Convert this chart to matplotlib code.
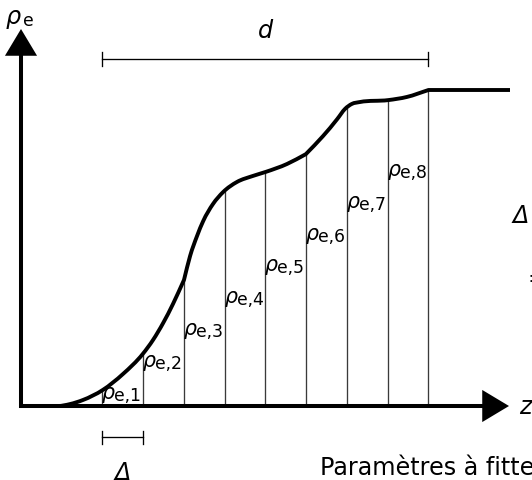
import matplotlib
matplotlib.use("Agg")
import numpy as np
import matplotlib.pyplot as plt
from matplotlib.path import Path
from matplotlib.patches import PathPatch

# Electron-density profile rho_e(z); z in units of the strip width Delta
z_profile = [0.91, 1.20, 1.52, 2.01, 2.50, 2.99, 3.24, 3.49, 3.73, 4.00,
             4.15, 4.32, 4.47, 4.71, 4.96, 5.30, 5.69, 6.01, 6.53, 6.99,
             7.41, 7.76, 7.95, 8.12, 8.32, 9.01, 9.47, 10.00, 12.00]
rho_profile = [0.000, 0.006, 0.019, 0.051, 0.101, 0.165, 0.209, 0.263, 0.323, 0.399,
               0.475, 0.538, 0.585, 0.639, 0.677, 0.709, 0.728, 0.741, 0.766, 0.797,
               0.854, 0.908, 0.940, 0.956, 0.962, 0.968, 0.978, 1.000, 1.000]
corner_z = [4.00, 6.99, 10.00]

# Slab boundaries and profile height at each boundary
strip_edges = [2, 3, 4, 5, 6, 7, 8, 9, 10]
edge_heights = [0.051, 0.165, 0.399, 0.680, 0.741, 0.797, 0.946, 0.968, 1.000]
strip_index = [1, 2, 3, 4, 5, 6, 7, 8]
label_rho = [0.038, 0.139, 0.241, 0.342, 0.443, 0.541, 0.642, 0.744]

# ---- figure: 532 x 481 px, axes fill the canvas ----
W, H, DPI = 532, 481, 100
fig = plt.figure(figsize=(W / DPI, H / DPI), dpi=DPI)
ax = fig.add_axes([0, 0, 1, 1])
ax.set_axis_off()

x0_px, y0_px = 21.0, 407.0      # origin position on the canvas
sx, sy = 40.75, 316.0           # pixels per unit of z and of rho
ax.set_xlim(-x0_px / sx, (W - x0_px) / sx)
ax.set_ylim((y0_px - H) / sy, y0_px / sy)

def px(x, y):
    """canvas pixel -> data coordinates (for annotation placement)"""
    return (x - x0_px) / sx, (y0_px - y) / sy

FONT = "DejaVu Sans"
BIG = 17.2
RHO = 14.8
SUB = 12.4
PT = 72.0 / DPI

# ---- smooth profile curve: cubic Hermite pieces, corners kept ----
def hermite_path(xs, ys, corners):
    xs = np.asarray(xs, float)
    ys = np.asarray(ys, float)
    cut = [0] + [int(np.argmin(np.abs(xs - c))) for c in corners] + [len(xs) - 1]
    verts, codes = [(xs[0], ys[0])], [Path.MOVETO]
    for a, b in zip(cut[:-1], cut[1:]):
        x, y = xs[a:b + 1], ys[a:b + 1]
        m = np.gradient(y, x) if len(x) > 2 else np.full(len(x), (y[-1] - y[0]) / (x[-1] - x[0]))
        if a == 0:
            m[0] = 0.0
        for i in range(len(x) - 1):
            h = (x[i + 1] - x[i]) / 3.0
            verts += [(x[i] + h, y[i] + m[i] * h),
                      (x[i + 1] - h, y[i + 1] - m[i + 1] * h),
                      (x[i + 1], y[i + 1])]
            codes += [Path.CURVE4] * 3
    return Path(verts, codes)

# slab boundaries
for z, h in zip(strip_edges, edge_heights):
    ax.plot([z, z], [0, h], color="#3a3a3a", lw=0.95, solid_capstyle="butt", zorder=2)

ax.add_patch(PathPatch(hermite_path(z_profile, rho_profile, corner_z),
                       facecolor="none", edgecolor="black", lw=2.8,
                       capstyle="butt", joinstyle="round", zorder=4))

# ---- axes with arrowheads ----
arrow_kw = dict(arrowstyle="-|>,head_length=15.0,head_width=9.0",
                color="black", lw=2.9, shrinkA=0, shrinkB=0, mutation_scale=1,
                joinstyle="miter", capstyle="butt")
ax.annotate("", xy=px(509, y0_px), xytext=px(19, y0_px),
            arrowprops=arrow_kw, zorder=5, annotation_clip=False)
ax.annotate("", xy=px(x0_px, 30), xytext=px(x0_px, 409),
            arrowprops=arrow_kw, zorder=5, annotation_clip=False)

# ---- dimension bars ----
def dim_bar(z_a, z_b, rho, tick_px):
    dh = tick_px / 2 / sy
    ax.plot([z_a, z_b], [rho, rho], color="black", lw=0.95, zorder=3)
    for z in (z_a, z_b):
        ax.plot([z, z], [rho - dh, rho + dh], color="black", lw=0.95, zorder=3)

d_rho = px(0, 60)[1]
dim_bar(strip_edges[0], strip_edges[-1], d_rho, 14)
delta_rho = px(0, 438)[1]
dim_bar(strip_edges[0], strip_edges[1], delta_rho, 13)

# ---- labels ----
ax.text(0.5 * (strip_edges[0] + strip_edges[-1]), px(0, 38)[1], "d",
        fontsize=BIG, family=FONT, style="italic", ha="center", va="baseline")
ax.text(0.5 * (strip_edges[0] + strip_edges[1]), px(0, 480)[1], "Δ",
        fontsize=BIG, family=FONT, style="italic", ha="center", va="baseline")
ax.text(*px(519, 407), "z", fontsize=BIG, family=FONT, style="italic",
        ha="left", va="center")

# rho_e on the vertical axis
ax.text(*px(6, 24), "ρ", fontsize=BIG, family=FONT, style="italic",
        ha="left", va="baseline")
ax.text(*px(23, 26), "e", fontsize=SUB, family=FONT, ha="left", va="baseline")

# per-slab densities
for z, r, k in zip(strip_edges[:-1], label_rho, strip_index):
    ax.annotate("ρ", xy=(z, r), xytext=(-0.5 * PT, -4 * PT), textcoords="offset points",
                fontsize=RHO, family=FONT, style="italic", ha="left", va="baseline",
                zorder=6)
    ax.annotate(f"e,{k}", xy=(z, r), xytext=(12 * PT, -6 * PT), textcoords="offset points",
                fontsize=SUB, family=FONT, ha="left", va="baseline", zorder=6)

# side notes
ax.text(*px(320, 475), "Paramètres à fitter", fontsize=BIG, family=FONT,
        ha="left", va="baseline")
ax.text(*px(513, 223), "Δ = d/8", fontsize=BIG, family=FONT, style="italic",
        ha="left", va="baseline")
ax.text(*px(528, 279), "= ", fontsize=BIG, family=FONT, ha="left", va="center")

fig.savefig("out.png", dpi=DPI)
